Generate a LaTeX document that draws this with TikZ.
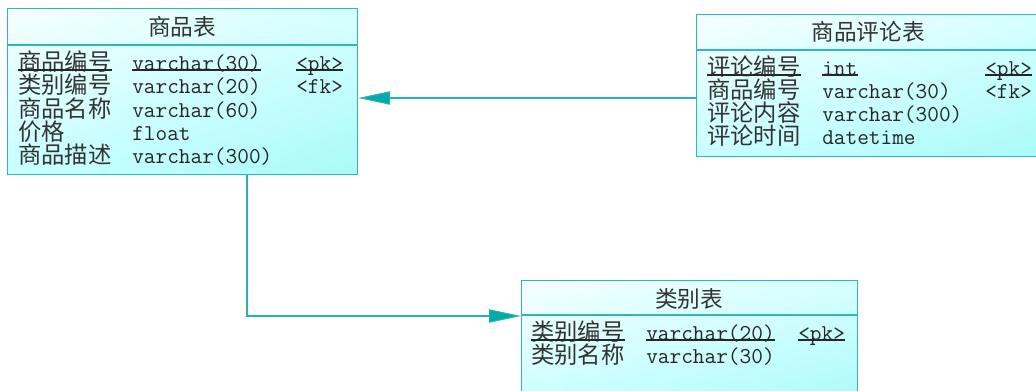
\documentclass[tikz,border=0pt]{standalone}
\usepackage{fontspec}
\newfontfamily\cjk{Noto Sans CJK SC}
\usetikzlibrary{arrows.meta,calc,shadings}
\definecolor{bord}{RGB}{48,184,184}
\definecolor{arrc}{RGB}{0,170,170}
\definecolor{linec}{RGB}{40,178,178}
\definecolor{cul}{RGB}{246,255,255}
\definecolor{cur}{RGB}{214,255,255}
\definecolor{cll}{RGB}{200,255,255}
\definecolor{clr}{RGB}{170,250,250}
\tikzset{
  tbox/.style={draw=bord, line width=0.9pt, anchor=north west, inner sep=0pt,
    upper left=cul, upper right=cur, lower left=cll, lower right=clr},
  cn/.style={inner sep=0pt, anchor=base west, font=\cjk\fontsize{17.5pt}{20pt}\selectfont, text=black!80},
  hd/.style={inner sep=0pt, anchor=base, font=\cjk\fontsize{17pt}{20pt}\selectfont, text=black!80},
  ty/.style={inner sep=0pt, anchor=base west, font=\ttfamily\fontsize{17pt}{19pt}\selectfont, text=black!85},
  uline/.style={draw=black!85, line width=1.1pt},
  sep/.style={draw=bord, line width=0.9pt},
  conn/.style={draw=linec, line width=0.8pt, -{Triangle[length=24pt,width=10pt,fill=arrc]}}
}
\begin{document}
\begin{tikzpicture}[x=0.75pt,y=-0.75pt]
\useasboundingbox (0,0) rectangle (1036,390);
\clip (0,0) rectangle (1036,390);
\fill[white] (0,0) rectangle (1036,390);
% ---------- table 1
\node[tbox, minimum width=350*0.75pt, minimum height=166*0.75pt] (t1) at (7,8) {};
\draw[sep] ($(t1.north west)+(0,37)$) -- ($(t1.north east)+(0,37)$);
\node[hd] (t1h) at (182,35) {商品表};
\node[cn] (a1) at (18,70) {商品编号};
\node[ty] (a1t) at (132,70) {varchar(30)};
\node[ty] (a1k) at (296,70) {<pk>};
\node[cn] (a2) at (18,93.5) {类别编号};
\node[ty] (a2t) at (132,93.5) {varchar(20)};
\node[ty] (a2k) at (296,93.5) {<fk>};
\node[cn] (a3) at (18,117) {商品名称};
\node[ty] (a3t) at (132,117) {varchar(60)};
\node[cn] (a4) at (18,140) {价格};
\node[ty] (a4t) at (132,140) {float};
\node[cn] (a5) at (18,163.5) {商品描述};
\node[ty] (a5t) at (132,163.5) {varchar(300)};
\foreach \n in {a1,a1t,a1k}{\draw[uline] (\n.base west) -- (\n.base east);}
% ---------- table 2
\node[tbox, minimum width=351*0.75pt, minimum height=142*0.75pt] (t2) at (696,14) {};
\draw[sep] ($(t2.north west)+(0,36)$) -- ($(t2.north east)+(0,36)$);
\node[hd] (t2h) at (868,40.5) {商品评论表};
\node[cn] (b1) at (707,75) {评论编号};
\node[ty] (b1t) at (822,75) {int};
\node[ty] (b1k) at (985,75) {<pk>};
\node[cn] (b2) at (707,98) {商品编号};
\node[ty] (b2t) at (822,98) {varchar(30)};
\node[ty] (b2k) at (985,98) {<fk>};
\node[cn] (b3) at (707,121) {评论内容};
\node[ty] (b3t) at (822,121) {varchar(300)};
\node[cn] (b4) at (707,144) {评论时间};
\node[ty] (b4t) at (822,144) {datetime};
\foreach \n in {b1,b1t,b1k}{\draw[uline] (\n.base west) -- (\n.base east);}
% ---------- table 3
\node[tbox, minimum width=336*0.75pt, minimum height=130*0.75pt] (t3) at (521,280) {};
\draw[sep] ($(t3.north west)+(0,35)$) -- ($(t3.north east)+(0,35)$);
\node[hd] (t3h) at (689,307.5) {类别表};
\node[cn] (c1) at (531,340) {类别编号};
\node[ty] (c1t) at (646,340) {varchar(20)};
\node[ty] (c1k) at (798,340) {<pk>};
\node[cn] (c2) at (531,363.5) {类别名称};
\node[ty] (c2t) at (646,363.5) {varchar(30)};
\foreach \n in {c1,c1t,c1k}{\draw[uline] (\n.base west) -- (\n.base east);}
% ---------- connectors
\coordinate (ya) at (0,98);
\coordinate (kb) at (247,316);
\draw[conn] (t2.west |- ya) -- (t1.east |- ya);
\draw[conn] (t1.south -| kb) |- (t3.west |- kb);
\end{tikzpicture}
\end{document}
